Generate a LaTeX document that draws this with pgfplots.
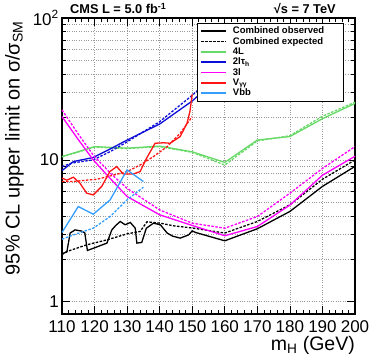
\documentclass[border=0pt]{standalone}
\usepackage{fontspec}
\setmainfont{Liberation Sans}
\usepackage{pgfplots}
\pgfplotsset{compat=1.18}
\definecolor{cgreen}{rgb}{0.4,0.85,0.4}
\definecolor{cblue}{rgb}{0.05,0.05,0.85}
\definecolor{cmag}{rgb}{1,0,1}
\definecolor{cred}{rgb}{1,0.08,0.08}
\definecolor{cazure}{rgb}{0.2,0.62,1}
\newcommand{\lrow}{\rule[-2.6pt]{0pt}{9.4pt}\hspace*{5pt}}
\begin{document}
\begin{tikzpicture}
\useasboundingbox (-62pt,-49pt) rectangle (312pt,314pt);
\begin{axis}[
  at={(0,0)}, anchor=south west,
  scale only axis, width=293pt, height=296pt,
  ymode=log, xmin=110, xmax=200, ymin=0.82, ymax=100,
  xtick={110,120,...,200}, minor x tick num=4,
  ytick={1,10,100}, yticklabels={1,10,10\textsuperscript{2}},
  /pgf/number format/assume math mode=true,
  /pgf/number format/1000 sep={},
  tick align=inside, xtick pos=both, ytick pos=both,
  major tick length=8pt, minor tick length=4pt,
  tick style={black, line width=0.6pt},
  axis line style={line width=1.1pt},
  xmajorgrids=true, ymajorgrids=true, yminorgrids=true,
  major grid style={gray!80, dotted, line width=0.6pt},
  minor grid style={gray!80, dotted, line width=0.6pt},
  ticklabel style={font=\fontsize{17}{19}\selectfont},
  xticklabel style={inner sep=0pt, yshift=-6pt},
  yticklabel style={inner sep=0pt, xshift=-3pt},
  ylabel={95\% CL upper limit on σ/σ\textsubscript{SM}},
  ylabel style={font=\fontsize{20}{22}\selectfont, at={(axis description cs:-0.13,0.99)}, anchor=south east, inner sep=0pt},
  xlabel={m\textsubscript{H} (GeV)},
  xlabel style={font=\fontsize{19.5}{22}\selectfont, at={(axis description cs:1,-0.074)}, anchor=north east, inner sep=0pt},
  clip=false,
  legend cell align=left,
  legend image code/.code={\draw[#1, line width=1.5pt] (0pt,0pt) -- (25pt,0pt);},
  legend style={at={(axis description cs:0.461,0.983)}, anchor=north west,
    draw=black, line width=0.7pt, fill=white, font=\fontsize{9.5}{10}\selectfont\bfseries,
    row sep=0pt, inner xsep=3pt, inner ysep=2.5pt,
    nodes={inner sep=1pt}},
]
\addplot[black, line width=1.3pt] coordinates {
(110,2.18) (111.5,2.25) (112.5,3.05) (114,3.21) (116,3.15) (117,3.06) (117.8,2.3)
(120,2.4) (122,2.5) (123.8,2.59) (125.3,3.21) (126.5,3.45) (127.9,3.68) (129.4,3.49)
(131,3.62) (132.5,3.3) (133,2.59) (134.5,2.62) (135.9,3.3) (138.1,3.58) (140.2,3.49)
(142.3,3.05) (144,2.9) (146.3,2.81) (148.9,2.96) (150,3.16) (151,3.08)
(160,2.69) (170,3.27) (180,4.33) (190,6.5) (200,9.0)};
\addlegendentry{\lrow\makebox[106pt][l]{Combined observed}}
\addplot[black, line width=1.3pt, dash pattern=on 2.5pt off 1.5pt] coordinates {
(110,2.15) (111.5,2.26) (117.6,2.52) (123.8,2.73) (130,3.01) (134,3.13) (136.1,3.66)
(140.2,3.58) (144.3,3.43) (150.5,3.30) (160,3.05) (170,3.68) (180,4.82) (190,7.3) (200,10.0)};
\addlegendentry{\lrow Combined expected}
\addplot[cgreen, line width=1.3pt] coordinates {
(110,10.55) (120,12.4) (130,12.1) (140,12.5) (150,11.4) (160,9.6) (170,13.8) (180,14.6) (190,19.5) (200,25)};
\addlegendentry{\lrow 4L}
\addplot[cgreen, line width=1.3pt, dash pattern=on 2.5pt off 1.5pt, forget plot] coordinates {
(110,10.5) (120,12.3) (130,12.0) (140,12.4) (150,11.3) (160,9.2) (170,13.6) (180,14.8) (190,20.3) (200,25.5)};
\addplot[cblue, line width=1.3pt] coordinates {
(110,8.4) (113.5,9.73) (119.6,10.4) (125,12) (130,13.8) (140,17.9) (150,26) (153,30)};
\addlegendentry{\lrow 2lτ\textsubscript{h}}
\addplot[cblue, line width=1.3pt, dash pattern=on 2.5pt off 1.5pt, forget plot] coordinates {
(110,8.97) (113,9.5) (119.6,10) (125,11.5) (130,13.4) (140,18.6) (150,28.5) (153,33)};
\addplot[cmag, line width=1.3pt] coordinates {
(110,20.2) (115,13.9) (119.6,10) (123.8,7.83) (130,5.52) (140,4.1) (150,3.45) (160,2.92) (170,3.39) (180,4.8) (190,7.8) (200,10.6)};
\addlegendentry{\lrow 3l}
\addplot[cmag, line width=1.3pt, dash pattern=on 2.5pt off 1.5pt, forget plot] coordinates {
(110,22.5) (115,15.2) (119.6,10.8) (125,8.0) (130,6.3) (140,4.44) (150,3.58) (160,3.3) (170,3.99) (180,5.82) (190,8.7) (200,12.4)};
\addplot[cred, line width=1.3pt] coordinates {
(110,7.44) (111.5,7.2) (113.5,7.55) (115.5,6.86) (117.6,5.82) (119.6,5.67) (122.2,6.5)
(124.7,8.27) (126.8,8.97) (128.8,7.96) (131.9,7.96) (134,8.27) (136,10.3) (138.6,13.1)
(141.2,13.2) (143.2,13.1) (146.3,14.6) (148.4,18.1) (149.3,22) (150,29)};
\addlegendentry{\lrow V\textsubscript{γγ}}
\addplot[cred, line width=1.3pt, dash pattern=on 2.5pt off 1.5pt, forget plot] coordinates {
(110,7.04) (113.5,7.04) (117.6,7.2) (120.7,7.3) (123.8,7.6) (130,8.27) (134,9.2) (138.2,10.6) (142.3,12.4) (146.3,15.4) (150,20.2)};
\addplot[cazure, line width=1.3pt] coordinates {
(110,3.08) (115,4.69) (119.6,4.14) (124.8,5.23) (130,8.5) (135,7.04)};
\addlegendentry{\lrow Vbb}
\addplot[cazure, line width=1.3pt, dash pattern=on 2.5pt off 1.5pt, forget plot] coordinates {
(110,2.76) (113.5,2.96) (119.6,3.30) (124.8,3.99) (130,5.23) (135,6.42)};
\node[anchor=base west, inner sep=0pt, font=\fontsize{12.8}{14}\selectfont\bfseries] at (axis description cs:0.027,1.015) {CMS L = 5.0 fb\textsuperscript{-1}};
\node[anchor=base east, inner sep=0pt, font=\fontsize{12.8}{14}\selectfont\bfseries] at (axis description cs:0.935,1.015) {√s = 7 TeV};
\end{axis}
\end{tikzpicture}
\end{document}
